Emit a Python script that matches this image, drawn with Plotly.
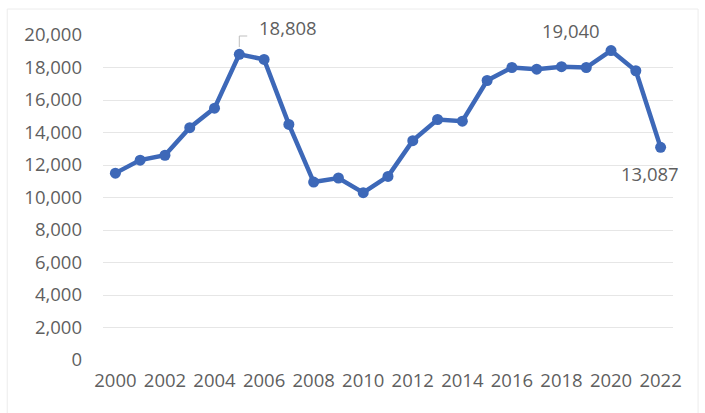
import plotly.graph_objects as go

years = list(range(2000, 2023))
values = [11500, 12300, 12600, 14300, 15500, 18808, 18500, 14500, 10950, 11200,
          10300, 11300, 13500, 14800, 14700, 17200, 18000, 17900, 18050, 18000,
          19040, 17800, 13087]
x_ticks = list(range(2000, 2023, 2))
y_ticks = list(range(0, 20001, 2000))
labeled_years = [2005, 2020, 2022]

LINE = "#3d68b8"
TXT = "#5f5f5f"
FONT = "Open Sans"
FS = 18.5

fig = go.Figure()
fig.add_trace(go.Scatter(
    x=years, y=values, mode="lines+markers",
    line=dict(color=LINE, width=4.5),
    marker=dict(color=LINE, size=11),
    hoverinfo="skip", showlegend=False,
))

val = dict(zip(years, values))
# label offsets (px) for each labeled point
offsets = {2005: (18, 27, "left"), 2020: (-40, 20, "center"), 2022: (-11, -26, "center")}
for yr in labeled_years:
    dx, dy, anc = offsets[yr]
    fig.add_annotation(x=yr, y=val[yr], text=f"{val[yr]:,}", showarrow=False,
                       xshift=dx, yshift=dy, xanchor=anc, yanchor="middle",
                       font=dict(family=FONT, size=FS, color=TXT))

# leader line for the 2005 label
v05 = val[2005]
fig.add_shape(type="path", xref="x", yref="y",
              path=f"M 2005,{v05 + 450} L 2005,{v05 + 1130} L 2005.32,{v05 + 1130}",
              line=dict(color="#bfbfbf", width=1))

# faint chart border
fig.add_shape(type="rect", xref="paper", yref="paper",
              x0=-0.168, x1=1.044, y0=-0.17, y1=1.08,
              line=dict(color="#ececec", width=1), layer="below")

fig.update_layout(
    width=705, height=413,
    margin=dict(l=103, r=32, t=35, b=53),
    paper_bgcolor="white", plot_bgcolor="white",
    font=dict(family=FONT, size=FS, color=TXT),
    xaxis=dict(range=[1999.5, 2022.5], tickvals=x_ticks, ticktext=[str(t) for t in x_ticks],
               showgrid=False, zeroline=False, showline=False, ticks="",
               ticklabelstandoff=7, tickfont=dict(size=FS, color=TXT)),
    yaxis=dict(range=[0, 20000], tickvals=y_ticks, ticktext=[f"{t:,}" for t in y_ticks],
               showgrid=True, gridcolor="#e6e6e6", gridwidth=1, zeroline=False,
               showline=False, ticks="", ticklabelstandoff=20,
               tickfont=dict(size=FS, color=TXT)),
)

fig.write_html("out.html")
